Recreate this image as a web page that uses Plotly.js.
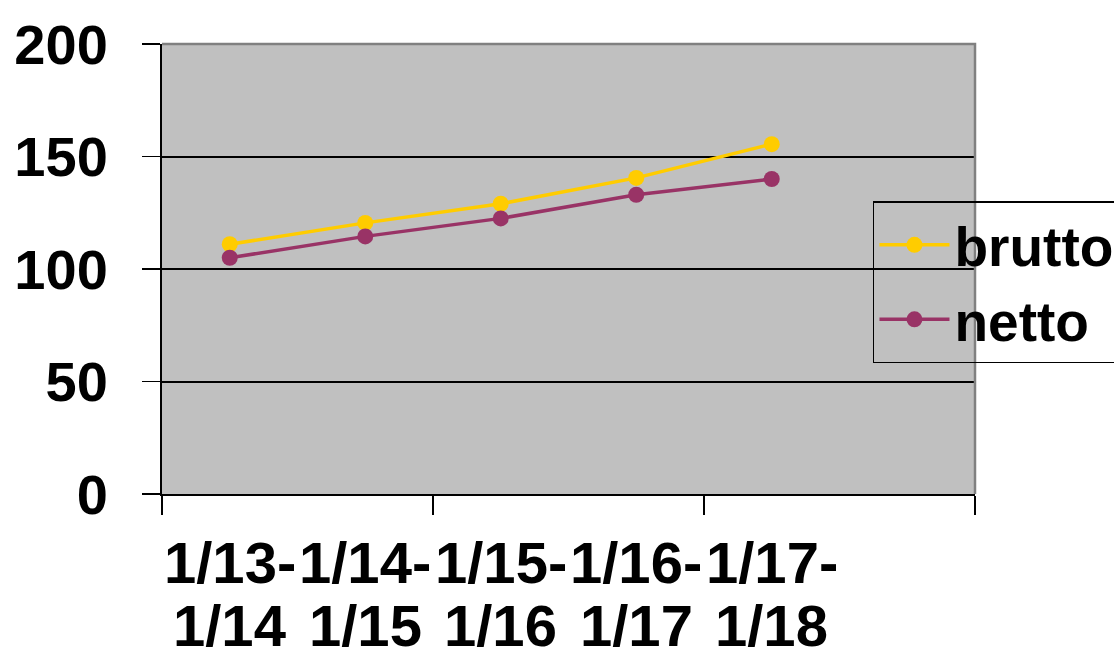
<!DOCTYPE html>
<html>
<head>
<meta charset="utf-8">
<script src="https://cdn.plot.ly/plotly-3.0.1.min.js"></script>
<style>html,body{margin:0;padding:0;background:#fff;}#chart{width:1114px;height:653px;}</style>
</head>
<body>
<div id="chart"></div>
<script>
var categories = ["1/13-1/14", "1/14-1/15", "1/15-1/16", "1/16-1/17", "1/17-1/18"];
var brutto = [111, 120.5, 129, 140.5, 155.5];
var netto = [105, 114.5, 122.5, 133, 140];
var yTicks = [0, 50, 100, 150, 200];
var seriesNames = ["brutto", "netto"];

var FONT = "Liberation Sans, Arial, sans-serif";
var xIdx = categories.map(function (c, i) { return i; });

var traces = [
  {x: xIdx, y: brutto, name: seriesNames[0], type: "scatter", mode: "lines+markers",
   line: {color: "#FFCC00", width: 3.5}, marker: {color: "#FFCC00", size: 16}},
  {x: xIdx, y: netto, name: seriesNames[1], type: "scatter", mode: "lines+markers",
   line: {color: "#993366", width: 3.5}, marker: {color: "#993366", size: 16}}
];

var annotations = [];
categories.forEach(function (c, i) {
  var k = c.indexOf("-");
  var l1 = c.slice(0, k + 1), l2 = c.slice(k + 1);
  annotations.push({x: i, xref: "x", y: -0.153, yref: "paper", yanchor: "middle", xanchor: "center",
    text: l1, showarrow: false, font: {family: FONT, size: 58, color: "#000", weight: "bold"}});
  annotations.push({x: i, xref: "x", y: -0.293, yref: "paper", yanchor: "middle", xanchor: "center",
    text: l2, showarrow: false, font: {family: FONT, size: 58, color: "#000", weight: "bold"}});
});

var layout = {
  width: 1114, height: 653,
  margin: {l: 162, r: 139, t: 44, b: 159, pad: 0, autoexpand: false},
  paper_bgcolor: "#ffffff",
  plot_bgcolor: "#C0C0C0",
  showlegend: true,
  legend: {x: 0.8745, y: 0.651, xanchor: "left", yanchor: "top",
    bgcolor: "rgba(0,0,0,0)", bordercolor: "#000", borderwidth: 1.5,
    font: {family: FONT, size: 55, color: "#000", weight: "bold"}, itemwidth: 70},
  xaxis: {
    range: [-0.5, categories.length + 0.5], showgrid: false, zeroline: false,
    tickmode: "array", tickvals: [-0.5, 1.5, 3.5, 5.5], showticklabels: false,
    ticks: "outside", ticklen: 19, tickwidth: 1.5, tickcolor: "#000",
    showline: true, linecolor: "#000", linewidth: 2
  },
  yaxis: {
    range: [0, 200], tickmode: "array", tickvals: yTicks, ticktext: yTicks.map(String),
    showgrid: true, gridcolor: "#000", gridwidth: 2, zeroline: false,
    ticks: "outside", ticklen: 18, tickwidth: 1.5, tickcolor: "#000",
    showline: true, linecolor: "#000", linewidth: 2,
    ticklabelstandoff: 23,
    tickfont: {family: FONT, size: 56, color: "#000", weight: "bold"}
  },
  shapes: [
    {type: "path", xref: "paper", yref: "paper", path: "M 0,1 L 1,1 L 1,0",
     line: {color: "#808080", width: 2.5}, layer: "above"}
  ],
  annotations: annotations
};

Plotly.newPlot("chart", traces, layout, {displayModeBar: false, staticPlot: true});
</script>
</body>
</html>
